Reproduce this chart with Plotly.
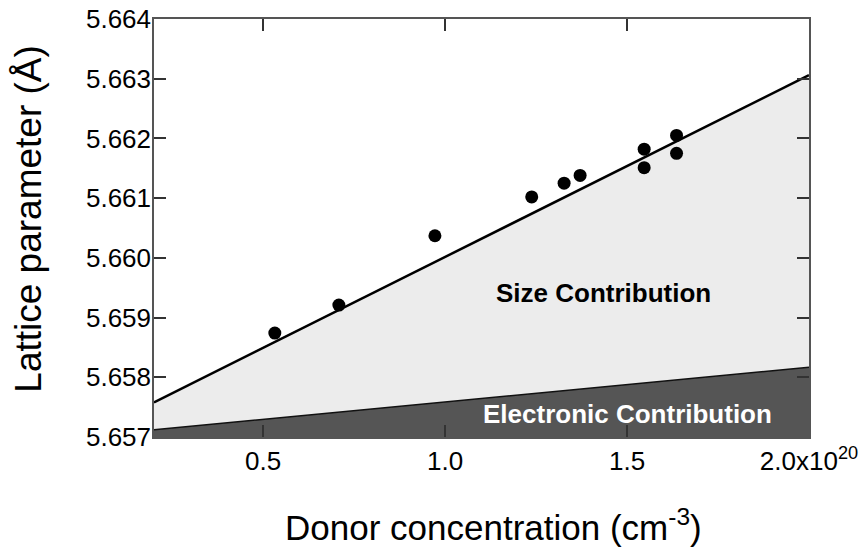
import plotly.graph_objects as go

# Measured lattice parameter vs. donor concentration (units of 1e20 cm^-3)
donor_conc = [0.532, 0.708, 0.972, 1.238, 1.327, 1.371, 1.547, 1.547, 1.636, 1.636]
lattice_param = [5.65874, 5.65921, 5.66037, 5.66102, 5.66125, 5.66138,
                 5.66182, 5.66151, 5.66205, 5.66175]

# Linear fit (total) and electronic-only contribution, evaluated at the axis ends
line_x = [0.2, 2.0]
fit_y = [5.65758, 5.66306]
electronic_y = [5.65712, 5.65817]

x_tickvals = [0.5, 1.0, 1.5, 2.0]
x_ticktext = ["0.5", "1.0", "1.5", "2.0x10<sup>20</sup>"]
y_tickvals = [5.657, 5.658, 5.659, 5.660, 5.661, 5.662, 5.663, 5.664]

FONT = "Liberation Sans, Arial, sans-serif"
AXIS_COLOR = "#555555"

fig = go.Figure()

# Electronic contribution: dark band below the lower line
fig.add_trace(go.Scatter(
    x=line_x, y=electronic_y, mode="lines",
    line=dict(color="#111111", width=1.5),
    fill="tozeroy", fillcolor="#555555",
    showlegend=False, hoverinfo="skip",
))

# Size contribution: light band between the two lines
fig.add_trace(go.Scatter(
    x=line_x, y=fit_y, mode="lines",
    line=dict(color="#000000", width=2.5),
    fill="tonexty", fillcolor="#ececec",
    showlegend=False, hoverinfo="skip",
))

# Measured points
fig.add_trace(go.Scatter(
    x=donor_conc, y=lattice_param, mode="markers",
    marker=dict(color="#000000", size=13),
    showlegend=False,
))

# Region labels
fig.add_annotation(
    x=1.434, y=5.65941, text="<b>Size Contribution</b>", showarrow=False,
    font=dict(family=FONT, size=26, color="#000000"),
    xanchor="center", yanchor="middle",
)
fig.add_annotation(
    x=1.501, y=5.65738, text="<b>Electronic Contribution</b>", showarrow=False,
    font=dict(family=FONT, size=26, color="#ffffff"),
    xanchor="center", yanchor="middle",
)

# Axis titles, placed in paper coordinates
fig.add_annotation(
    xref="paper", yref="paper", x=0.518, y=-0.21,
    text="Donor concentration (cm<sup>-3</sup>)", showarrow=False,
    font=dict(family=FONT, size=35, color="#000000"),
    xanchor="center", yanchor="middle",
)
fig.add_annotation(
    xref="paper", yref="paper", x=-0.191, y=0.522,
    text="Lattice parameter (Å)", showarrow=False, textangle=-90,
    font=dict(family=FONT, size=37, color="#000000"),
    xanchor="center", yanchor="middle",
)

axis_common = dict(
    showgrid=False, zeroline=False, layer="above traces", automargin=False,
    showline=True, linecolor=AXIS_COLOR, linewidth=1.5,
    mirror="ticks", ticks="inside", ticklen=12, tickwidth=1.5,
    tickcolor="#333333",
    tickfont=dict(family=FONT, size=26, color="#000000"),
)

fig.update_xaxes(range=[0.2, 2.0], tickvals=x_tickvals, ticktext=x_ticktext,
                 **axis_common)
fig.update_yaxes(range=[5.657, 5.664], tickvals=y_tickvals, tickformat=".3f",
                 ticklabelstandoff=-4, **axis_common)

fig.update_layout(
    width=862, height=553,
    margin=dict(l=154, r=53, t=19, b=116),
    plot_bgcolor="#ffffff", paper_bgcolor="#ffffff",
    font=dict(family=FONT),
)

fig.write_html("out.html")
